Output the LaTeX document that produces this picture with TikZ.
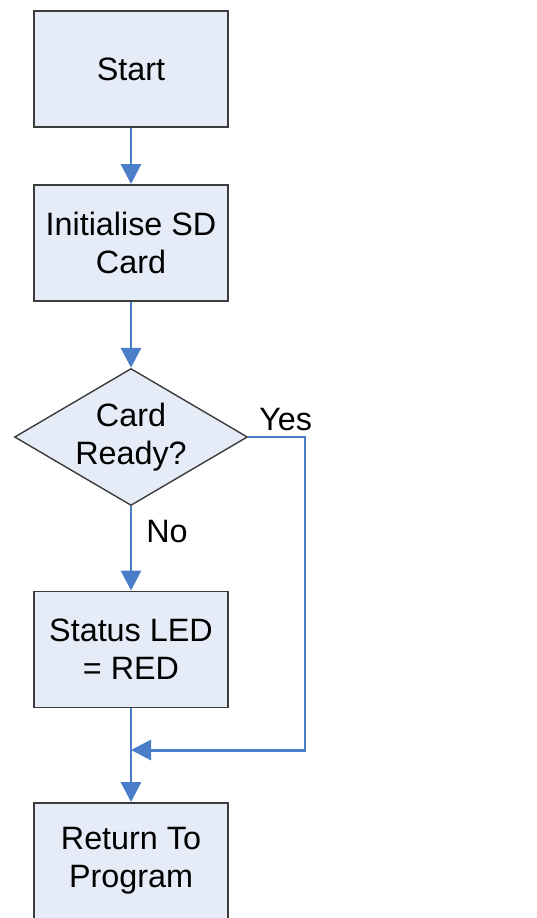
\documentclass[tikz,border=0pt]{standalone}
\usepackage{fontspec}
\setmainfont{Liberation Sans}
\usetikzlibrary{shapes.geometric, arrows.meta}

\definecolor{boxfill}{RGB}{230,236,247}
\definecolor{boxline}{RGB}{60,60,60}
\definecolor{flowblue}{RGB}{74,126,200}

\begin{document}
\begin{tikzpicture}[
    font=\fontsize{18.4}{21.6}\selectfont,
    process/.style={draw=boxline, line width=1.1pt, fill=boxfill,
        minimum width=3.88cm, minimum height=2.32cm, inner sep=0pt, align=center},
    decision/.style={diamond, draw=boxline, line width=0.8pt, fill=boxfill, aspect=1.7,
        minimum width=4.66cm, minimum height=2.74cm, inner sep=0pt, align=center},
    flow/.style={draw=flowblue, line width=1.7pt, -{Triangle[length=4mm, width=4mm]}},
    branch/.style={inner sep=0pt}
]
                \useasboundingbox (0,0) rectangle (10.74,-18.36);
                \node[process] (start) at (2.62,-1.38) {Start};
                \node[process] (init) at (2.62,-4.86) {Initialise SD\\Card};
                \node[decision] (ready) at (2.62,-8.74) {Card\\Ready?};
                \node[process] (status) at (2.62,-12.99) {Status LED\\= RED};
                \node[process] (ret) at (2.62,-17.22) {Return To\\Program};
                \coordinate (yesturn) at (6.10,-8.74);
                \coordinate (merge) at (2.62,-15.00);
                \draw[flow] (start) -- (init);
                \draw[flow] (init) -- (ready);
                \draw[flow] (ready) -- (status);
                \draw[flow] (status) -- (ret);
                \draw[flow] (ready.east) -- (yesturn) |- (merge);
                \node[branch, anchor=south west] (yes) at (5.18,-8.62) {Yes};
                \node[branch] (no) at (3.34,-10.64) {No};
            \end{tikzpicture}
\end{document}
